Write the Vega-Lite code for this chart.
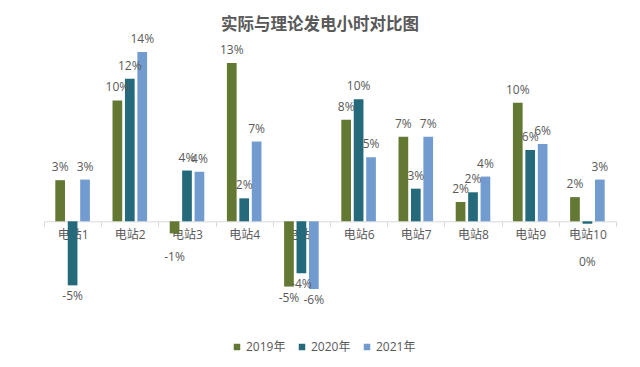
{
  "$schema": "https://vega.github.io/schema/vega-lite/v6.json",
  "width": 572,
  "height": 278,
  "autosize": {"type": "none"},
  "padding": {"left": 44, "top": 40, "right": 24, "bottom": 49},
  "background": "white",
  "title": {"text": "实际与理论发电小时对比图", "fontSize": 16.5, "fontWeight": "bold", "color": "#595959", "font": "Noto Sans CJK SC", "anchor": "middle", "offset": 0, "dx": -10},
  "config": {
    "view": {"stroke": null},
    "locale": {"number": {"decimal": ".", "thousands": ",", "grouping": [3], "currency": ["$", ""], "minus": "-"}}
  },
  "data": {"values": [
    {"station": "电站1", "year": "2019年", "value": 0.034},
    {"station": "电站1", "year": "2020年", "value": -0.053},
    {"station": "电站1", "year": "2021年", "value": 0.0345},
    {"station": "电站2", "year": "2019年", "value": 0.100},
    {"station": "电站2", "year": "2020年", "value": 0.118},
    {"station": "电站2", "year": "2021年", "value": 0.140},
    {"station": "电站3", "year": "2019年", "value": -0.010},
    {"station": "电站3", "year": "2020年", "value": 0.042},
    {"station": "电站3", "year": "2021年", "value": 0.041},
    {"station": "电站4", "year": "2019年", "value": 0.131},
    {"station": "电站4", "year": "2020年", "value": 0.019},
    {"station": "电站4", "year": "2021年", "value": 0.066},
    {"station": "电站5", "year": "2019年", "value": -0.054},
    {"station": "电站5", "year": "2020年", "value": -0.043},
    {"station": "电站5", "year": "2021年", "value": -0.056},
    {"station": "电站6", "year": "2019年", "value": 0.084},
    {"station": "电站6", "year": "2020年", "value": 0.101},
    {"station": "电站6", "year": "2021年", "value": 0.053},
    {"station": "电站7", "year": "2019年", "value": 0.070},
    {"station": "电站7", "year": "2020年", "value": 0.027},
    {"station": "电站7", "year": "2021年", "value": 0.070},
    {"station": "电站8", "year": "2019年", "value": 0.016},
    {"station": "电站8", "year": "2020年", "value": 0.024},
    {"station": "电站8", "year": "2021年", "value": 0.037},
    {"station": "电站9", "year": "2019年", "value": 0.098},
    {"station": "电站9", "year": "2020年", "value": 0.059},
    {"station": "电站9", "year": "2021年", "value": 0.064},
    {"station": "电站10", "year": "2019年", "value": 0.020},
    {"station": "电站10", "year": "2020年", "value": -0.002},
    {"station": "电站10", "year": "2021年", "value": 0.0345}
  ]},
  "encoding": {
    "x": {
      "field": "station", "type": "nominal", "sort": null,
      "scale": {"paddingInner": 0, "paddingOuter": 0},
      "axis": {
        "orient": "bottom", "offset": -96.7, "title": null, "labelAngle": 0,
        "domainColor": "#d9d9d9", "tickColor": "#d9d9d9", "tickSize": 5, "tickBand": "extent",
        "labelColor": "#595959", "labelFontSize": 12, "labelPadding": 3, "labelFont": "Open Sans, Noto Sans CJK SC"
      }
    },
    "xOffset": {"field": "year", "type": "nominal", "scale": {"paddingInner": 0.22, "paddingOuter": 0.91}},
    "y": {"field": "value", "type": "quantitative", "scale": {"domain": [-0.08, 0.15], "zero": true, "nice": false}, "axis": null}
  },
  "layer": [
    {
      "mark": {"type": "bar"},
      "encoding": {
        "color": {
          "field": "year", "type": "nominal",
          "scale": {"domain": ["2019年", "2020年", "2021年"], "range": ["#637832", "#246a7a", "#729bcf"]},
          "legend": {"orient": "none", "legendX": 187, "legendY": 301, "direction": "horizontal", "title": null, "symbolType": "square", "symbolSize": 42, "symbolStrokeWidth": 0, "labelFontSize": 12, "labelColor": "#595959", "labelFont": "Open Sans, Noto Sans CJK SC", "labelOffset": 3, "columnPadding": 10, "padding": 0}
        }
      }
    },
    {
      "transform": [{"filter": "datum.value >= 0"}],
      "mark": {"type": "text", "baseline": "bottom", "dy": -6, "fontSize": 12, "color": "#595959", "font": "Open Sans, Noto Sans CJK SC"},
      "encoding": {"text": {"field": "value", "type": "quantitative", "format": ".0%"}}
    },
    {
      "transform": [{"filter": "datum.value <= -0.02"}],
      "mark": {"type": "text", "baseline": "top", "dy": 6, "fontSize": 12, "color": "#595959", "font": "Open Sans, Noto Sans CJK SC"},
      "encoding": {"text": {"field": "value", "type": "quantitative", "format": ".0%"}}
    },
    {
      "transform": [{"filter": "datum.value < 0 && datum.value > -0.02 && datum.value <= -0.005"}],
      "mark": {"type": "text", "baseline": "top", "dy": 19, "fontSize": 12, "color": "#595959", "font": "Open Sans, Noto Sans CJK SC"},
      "encoding": {"text": {"field": "value", "type": "quantitative", "format": ".0%"}}
    },
    {
      "transform": [{"filter": "datum.value < 0 && datum.value > -0.005"}],
      "mark": {"type": "text", "baseline": "top", "dy": 33, "fontSize": 12, "color": "#595959", "font": "Open Sans, Noto Sans CJK SC"},
      "encoding": {"text": {"field": "value", "type": "quantitative", "format": ".0%"}}
    }
  ]
}
